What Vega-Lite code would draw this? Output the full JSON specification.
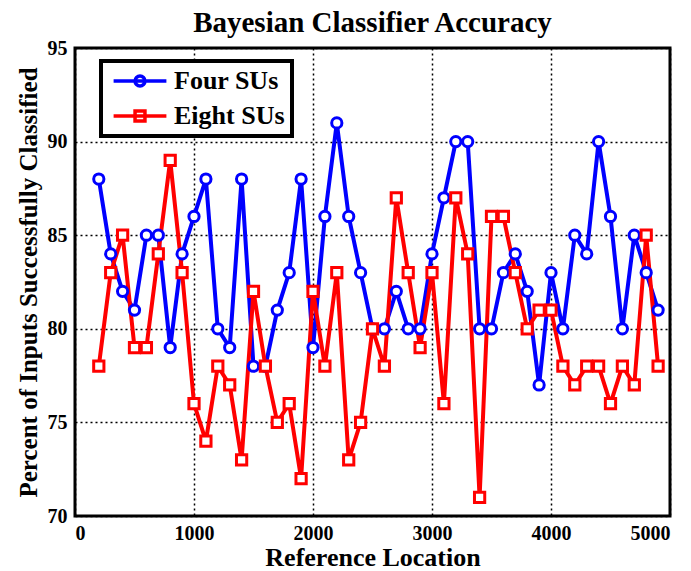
{
  "$schema": "https://vega.github.io/schema/vega-lite/v6.json",
  "width": 595,
  "height": 468,
  "autosize": {"type": "none"},
  "padding": {"left": 75, "top": 48, "right": 21, "bottom": 55},
  "background": "white",
  "title": {
    "text": "Bayesian Classifier Accuracy",
    "font": "Liberation Serif",
    "fontSize": 29,
    "fontWeight": "bold",
    "color": "black",
    "anchor": "middle",
    "offset": 0
  },
  "config": {
    "view": {"stroke": "black", "strokeWidth": 3},
    "axis": {
      "labelFont": "Liberation Serif",
      "labelFontSize": 20,
      "labelFontWeight": "bold",
      "labelColor": "black",
      "titleFont": "Liberation Serif",
      "titleFontWeight": "bold",
      "titleColor": "black",
      "grid": true,
      "gridColor": "black",
      "gridDash": [2, 3],
      "gridWidth": 1.5,
      "gridOpacity": 1,
      "domain": false,
      "ticks": false
    }
  },
  "resolve": {"legend": {"color": "independent"}},
  "data": {
    "values": [
      {"x":200,"v":88,"s":"Four SUs"},{"x":300,"v":84,"s":"Four SUs"},{"x":400,"v":82,"s":"Four SUs"},{"x":500,"v":81,"s":"Four SUs"},
      {"x":600,"v":85,"s":"Four SUs"},{"x":700,"v":85,"s":"Four SUs"},{"x":800,"v":79,"s":"Four SUs"},{"x":900,"v":84,"s":"Four SUs"},
      {"x":1000,"v":86,"s":"Four SUs"},{"x":1100,"v":88,"s":"Four SUs"},{"x":1200,"v":80,"s":"Four SUs"},{"x":1300,"v":79,"s":"Four SUs"},
      {"x":1400,"v":88,"s":"Four SUs"},{"x":1500,"v":78,"s":"Four SUs"},{"x":1600,"v":78,"s":"Four SUs"},{"x":1700,"v":81,"s":"Four SUs"},
      {"x":1800,"v":83,"s":"Four SUs"},{"x":1900,"v":88,"s":"Four SUs"},{"x":2000,"v":79,"s":"Four SUs"},{"x":2100,"v":86,"s":"Four SUs"},
      {"x":2200,"v":91,"s":"Four SUs"},{"x":2300,"v":86,"s":"Four SUs"},{"x":2400,"v":83,"s":"Four SUs"},{"x":2500,"v":80,"s":"Four SUs"},
      {"x":2600,"v":80,"s":"Four SUs"},{"x":2700,"v":82,"s":"Four SUs"},{"x":2800,"v":80,"s":"Four SUs"},{"x":2900,"v":80,"s":"Four SUs"},
      {"x":3000,"v":84,"s":"Four SUs"},{"x":3100,"v":87,"s":"Four SUs"},{"x":3200,"v":90,"s":"Four SUs"},{"x":3300,"v":90,"s":"Four SUs"},
      {"x":3400,"v":80,"s":"Four SUs"},{"x":3500,"v":80,"s":"Four SUs"},{"x":3600,"v":83,"s":"Four SUs"},{"x":3700,"v":84,"s":"Four SUs"},
      {"x":3800,"v":82,"s":"Four SUs"},{"x":3900,"v":77,"s":"Four SUs"},{"x":4000,"v":83,"s":"Four SUs"},{"x":4100,"v":80,"s":"Four SUs"},
      {"x":4200,"v":85,"s":"Four SUs"},{"x":4300,"v":84,"s":"Four SUs"},{"x":4400,"v":90,"s":"Four SUs"},{"x":4500,"v":86,"s":"Four SUs"},
      {"x":4600,"v":80,"s":"Four SUs"},{"x":4700,"v":85,"s":"Four SUs"},{"x":4800,"v":83,"s":"Four SUs"},{"x":4900,"v":81,"s":"Four SUs"},
      {"x":200,"v":78,"s":"Eight SUs"},{"x":300,"v":83,"s":"Eight SUs"},{"x":400,"v":85,"s":"Eight SUs"},{"x":500,"v":79,"s":"Eight SUs"},
      {"x":600,"v":79,"s":"Eight SUs"},{"x":700,"v":84,"s":"Eight SUs"},{"x":800,"v":89,"s":"Eight SUs"},{"x":900,"v":83,"s":"Eight SUs"},
      {"x":1000,"v":76,"s":"Eight SUs"},{"x":1100,"v":74,"s":"Eight SUs"},{"x":1200,"v":78,"s":"Eight SUs"},{"x":1300,"v":77,"s":"Eight SUs"},
      {"x":1400,"v":73,"s":"Eight SUs"},{"x":1500,"v":82,"s":"Eight SUs"},{"x":1600,"v":78,"s":"Eight SUs"},{"x":1700,"v":75,"s":"Eight SUs"},
      {"x":1800,"v":76,"s":"Eight SUs"},{"x":1900,"v":72,"s":"Eight SUs"},{"x":2000,"v":82,"s":"Eight SUs"},{"x":2100,"v":78,"s":"Eight SUs"},
      {"x":2200,"v":83,"s":"Eight SUs"},{"x":2300,"v":73,"s":"Eight SUs"},{"x":2400,"v":75,"s":"Eight SUs"},{"x":2500,"v":80,"s":"Eight SUs"},
      {"x":2600,"v":78,"s":"Eight SUs"},{"x":2700,"v":87,"s":"Eight SUs"},{"x":2800,"v":83,"s":"Eight SUs"},{"x":2900,"v":79,"s":"Eight SUs"},
      {"x":3000,"v":83,"s":"Eight SUs"},{"x":3100,"v":76,"s":"Eight SUs"},{"x":3200,"v":87,"s":"Eight SUs"},{"x":3300,"v":84,"s":"Eight SUs"},
      {"x":3400,"v":71,"s":"Eight SUs"},{"x":3500,"v":86,"s":"Eight SUs"},{"x":3600,"v":86,"s":"Eight SUs"},{"x":3700,"v":83,"s":"Eight SUs"},
      {"x":3800,"v":80,"s":"Eight SUs"},{"x":3900,"v":81,"s":"Eight SUs"},{"x":4000,"v":81,"s":"Eight SUs"},{"x":4100,"v":78,"s":"Eight SUs"},
      {"x":4200,"v":77,"s":"Eight SUs"},{"x":4300,"v":78,"s":"Eight SUs"},{"x":4400,"v":78,"s":"Eight SUs"},{"x":4500,"v":76,"s":"Eight SUs"},
      {"x":4600,"v":78,"s":"Eight SUs"},{"x":4700,"v":77,"s":"Eight SUs"},{"x":4800,"v":85,"s":"Eight SUs"},{"x":4900,"v":78,"s":"Eight SUs"}
    ]
  },
  "encoding": {
    "x": {
      "field": "x",
      "type": "quantitative",
      "scale": {"domain": [0, 5000], "nice": false, "zero": false},
      "axis": {"values": [0, 1000, 2000, 3000, 4000, 5000], "title": "Reference Location", "titleFontSize": 26, "labelPadding": 7, "titlePadding": 1, "format": "d"}
    },
    "y": {
      "field": "v",
      "type": "quantitative",
      "scale": {"domain": [70, 95], "nice": false, "zero": false},
      "axis": {"values": [70, 75, 80, 85, 90, 95], "title": "Percent of Inputs Successfully Classified", "titleFontSize": 25, "labelPadding": 8, "titlePadding": 6}
    }
  },
  "layer": [
    {
      "mark": {"type": "line", "strokeWidth": 4},
      "encoding": {
        "color": {
          "field": "s",
          "type": "nominal",
          "scale": {"domain": ["Four SUs", "Eight SUs"], "range": ["#0000ff", "#ff0000"]},
          "legend": {
            "orient": "none",
            "legendX": 26,
            "legendY": 13,
            "title": null,
            "labelFont": "Liberation Serif",
            "labelFontSize": 26,
            "labelFontWeight": "bold",
            "labelColor": "black",
            "strokeColor": "black",
            "fillColor": "white",
            "padding": 7,
            "symbolSize": 484,
            "symbolStrokeWidth": 3.5,
            "symbolOffset": 19,
            "labelOffset": 21,
            "rowPadding": 9,
            "encode": {
              "symbols": {"update": {
                "shape": {"signal": "datum.value == 'Four SUs' ? 'M-2.4,0H2.4M0.45,0A0.45,0.45,0,1,1,-0.45,0A0.45,0.45,0,1,1,0.45,0' : 'M-2.4,0H2.4M-0.45,-0.45H0.45V0.45H-0.45Z'"},
                "fill": {"value": "white"},
                "fillOpacity": {"value": 1},
                "opacity": {"value": 1}
              }},
              "legend": {"update": {"strokeWidth": {"value": 4}}}
            }
          }
        }
      }
    },
    {
      "mark": {"type": "point", "filled": false, "fill": "white", "fillOpacity": 1, "strokeWidth": 3, "opacity": 1, "size": 105},
      "encoding": {
        "color": {"field": "s", "type": "nominal", "scale": {"domain": ["Four SUs", "Eight SUs"], "range": ["#0000ff", "#ff0000"]}, "legend": null},
        "shape": {"field": "s", "type": "nominal", "scale": {"domain": ["Four SUs", "Eight SUs"], "range": ["circle", "square"]}, "legend": null}
      }
    }
  ]
}
